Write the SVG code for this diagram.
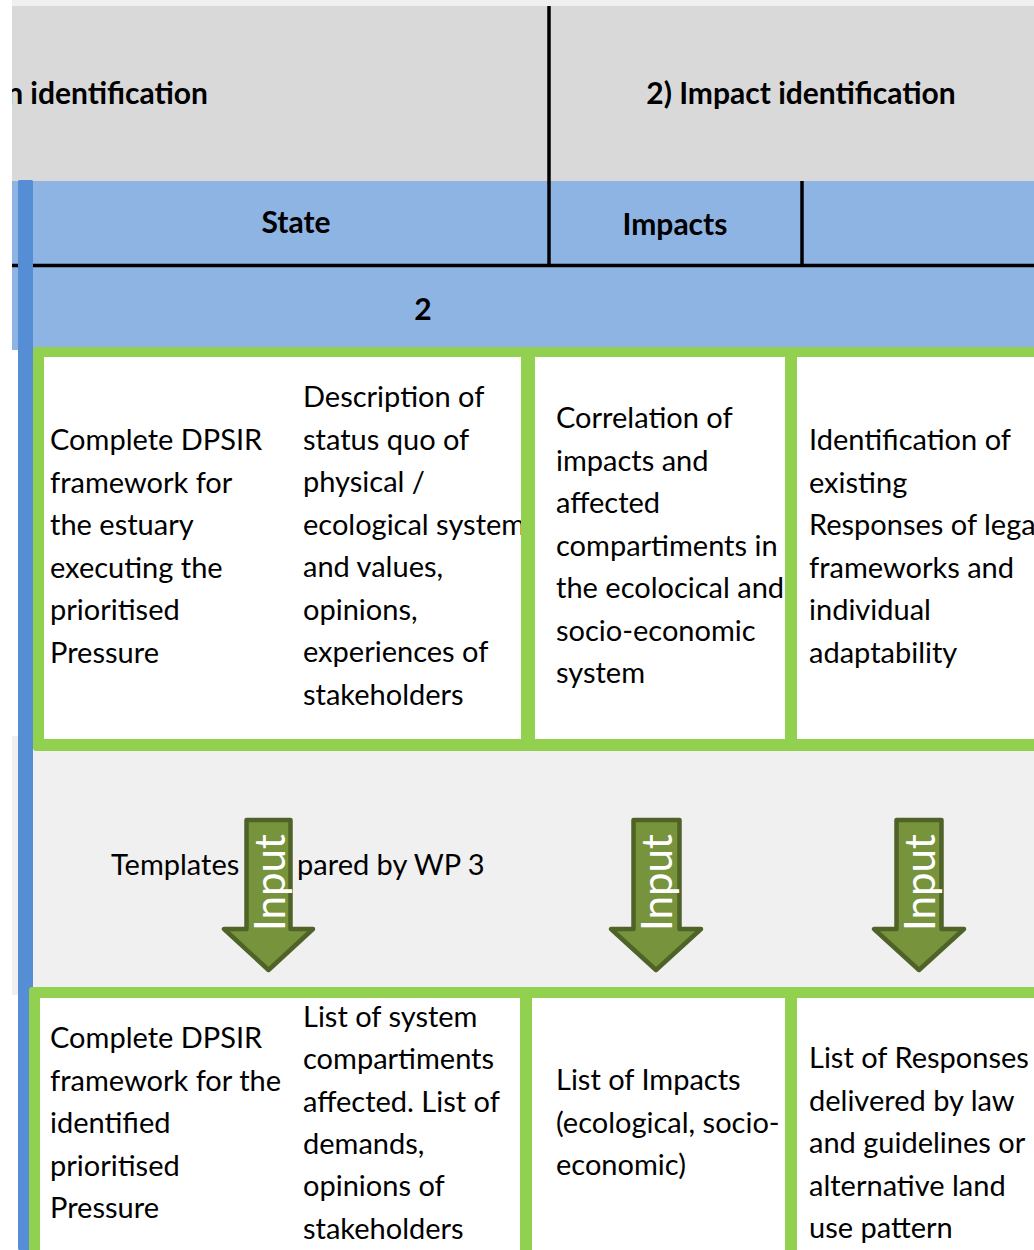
<svg xmlns="http://www.w3.org/2000/svg" width="1034" height="1250" viewBox="0 0 1034 1250">
<defs>
<style>
.t{font-family:Lato,"Liberation Sans",sans-serif;font-size:29px;fill:#000}
.b{font-family:Lato,"Liberation Sans",sans-serif;font-size:30px;font-weight:bold;fill:#000}
.in{font-family:Lato,"Liberation Sans",sans-serif;font-size:42px;fill:#fff}
.arrow{fill:#77933c;stroke:#4f6228;stroke-width:4.5;stroke-linejoin:round}
.green{fill:#92d050}
.cell{fill:#fff}
.rule{stroke:#000;stroke-width:3.5;fill:none}
</style>
<clipPath id="cHead"><rect x="12" y="6" width="536" height="175"/></clipPath>
<clipPath id="c1a"><rect x="44" y="357" width="477" height="382"/></clipPath>
<clipPath id="c1b"><rect x="535" y="357" width="250" height="382"/></clipPath>
<clipPath id="c1c"><rect x="797" y="357" width="237" height="382"/></clipPath>
<clipPath id="c2a"><rect x="40" y="998" width="480" height="252"/></clipPath>
<clipPath id="c2b"><rect x="532" y="998" width="253" height="252"/></clipPath>
<clipPath id="c2c"><rect x="797" y="998" width="237" height="252"/></clipPath>
</defs>
<rect x="0" y="0" width="1034" height="1250" fill="#fff"/>
<rect x="12" y="0" width="1022" height="6" fill="#f0f0f0"/>
<g id="header-row">
<rect x="12" y="6" width="1022" height="175" fill="#d9d9d9"/>
<rect x="12" y="181" width="1022" height="169" fill="#8eb4e3"/>
<line class="rule" x1="12" y1="265.5" x2="1034" y2="265.5"/>
<line class="rule" x1="549" y1="6" x2="549" y2="267"/>
<line class="rule" x1="802" y1="181" x2="802" y2="265"/>
</g>
<g id="head-1"><text class="b" x="208" y="104" text-anchor="end" clip-path="url(#cHead)">n identification</text></g>
<g id="head-2"><text class="b" x="801" y="104" text-anchor="middle">2) Impact identification</text></g>
<g id="head-state"><text class="b" x="296" y="233" text-anchor="middle">State</text></g>
<g id="head-impacts"><text class="b" x="675" y="235" text-anchor="middle">Impacts</text></g>
<g id="head-num"><text class="b" x="423" y="320" text-anchor="middle">2</text></g>
<rect x="12" y="736" width="1022" height="259" fill="#f0f0f0"/>
<rect x="18" y="180" width="15" height="1070" rx="1.5" fill="#558ed5"/>

<g id="row1">
<rect class="green" x="33" y="347" width="1010" height="404" rx="3"/>
<g id="box1-1">
<rect class="cell" x="44" y="357" width="477" height="382"/>
<g clip-path="url(#c1a)">
<text class="t" x="50" y="450"><tspan x="50">Complete DPSIR</tspan><tspan x="50" dy="42.5">framework for</tspan><tspan x="50" dy="42.5">the estuary</tspan><tspan x="50" dy="42.5">executing the</tspan><tspan x="50" dy="42.5">prioritised</tspan><tspan x="50" dy="42.5">Pressure</tspan></text>
<text class="t" x="303" y="407"><tspan x="303">Description of</tspan><tspan x="303" dy="42.5">status quo of</tspan><tspan x="303" dy="42.5">physical /</tspan><tspan x="303" dy="42.5">ecological system</tspan><tspan x="303" dy="42.5">and values,</tspan><tspan x="303" dy="42.5">opinions,</tspan><tspan x="303" dy="42.5">experiences of</tspan><tspan x="303" dy="42.5">stakeholders</tspan></text>
</g>
</g>
<g id="box1-2">
<rect class="cell" x="535" y="357" width="250" height="382"/>
<text class="t" x="556" y="428" clip-path="url(#c1b)"><tspan x="556">Correlation of</tspan><tspan x="556" dy="42.5">impacts and</tspan><tspan x="556" dy="42.5">affected</tspan><tspan x="556" dy="42.5">compartiments in</tspan><tspan x="556" dy="42.5">the ecolocical and</tspan><tspan x="556" dy="42.5">socio-economic</tspan><tspan x="556" dy="42.5">system</tspan></text>
</g>
<g id="box1-3">
<rect class="cell" x="797" y="357" width="240" height="382"/>
<text class="t" x="809" y="450" clip-path="url(#c1c)"><tspan x="809">Identification of</tspan><tspan x="809" dy="42.5">existing</tspan><tspan x="809" dy="42.5">Responses of legal</tspan><tspan x="809" dy="42.5">frameworks and</tspan><tspan x="809" dy="42.5">individual</tspan><tspan x="809" dy="42.5">adaptability</tspan></text>
</g>
</g>

<g id="templates"><text class="t" x="111" y="875">Templates <tspan x="250">pre</tspan><tspan x="297">pared by WP 3</tspan></text></g>

<g id="row2">
<rect class="green" x="29" y="987" width="1015" height="275" rx="3"/>
<g id="box2-1">
<rect class="cell" x="40" y="998" width="480" height="252"/>
<g clip-path="url(#c2a)">
<text class="t" x="50" y="1048"><tspan x="50">Complete DPSIR</tspan><tspan x="50" dy="42.5">framework for the</tspan><tspan x="50" dy="42.5">identified</tspan><tspan x="50" dy="42.5">prioritised</tspan><tspan x="50" dy="42.5">Pressure</tspan></text>
<text class="t" x="303" y="1027"><tspan x="303">List of system</tspan><tspan x="303" dy="42.3">compartiments</tspan><tspan x="303" dy="42.3">affected. List of</tspan><tspan x="303" dy="42.3">demands,</tspan><tspan x="303" dy="42.3">opinions of</tspan><tspan x="303" dy="42.3">stakeholders</tspan></text>
</g>
</g>
<g id="box2-2">
<rect class="cell" x="532" y="998" width="253" height="252"/>
<text class="t" x="556" y="1090" clip-path="url(#c2b)"><tspan x="556">List of Impacts</tspan><tspan x="556" dy="42.5">(ecological, socio-</tspan><tspan x="556" dy="42.5">economic)</tspan></text>
</g>
<g id="box2-3">
<rect class="cell" x="797" y="998" width="240" height="252"/>
<text class="t" x="809" y="1068" clip-path="url(#c2c)"><tspan x="809">List of Responses</tspan><tspan x="809" dy="42.5">delivered by law</tspan><tspan x="809" dy="42.5">and guidelines or</tspan><tspan x="809" dy="42.5">alternative land</tspan><tspan x="809" dy="42.5">use pattern</tspan></text>
</g>
</g>

<g id="connectors">
<g id="arrow-1">
<path class="arrow" d="M246.5 820 H290.5 V929 H313 L268.5 970 L224 929 H246.5 Z"/>
<text class="in" transform="translate(285,931) rotate(-90)">Input</text>
</g>
<g id="arrow-2">
<path class="arrow" d="M633.5 820 H679.5 V929 H701 L656 970 L611 929 H633.5 Z"/>
<text class="in" transform="translate(672,931) rotate(-90)">Input</text>
</g>
<g id="arrow-3">
<path class="arrow" d="M896.5 820 H941.5 V929 H964 L919 970 L874 929 H896.5 Z"/>
<text class="in" transform="translate(935,931) rotate(-90)">Input</text>
</g>
</g>
</svg>
